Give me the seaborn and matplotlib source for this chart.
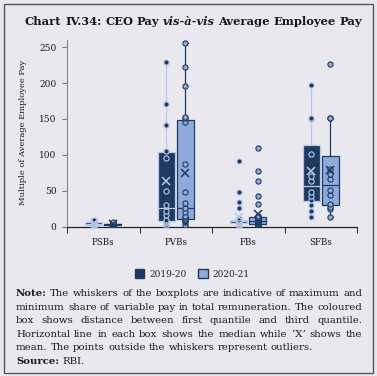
import pandas as pd
import matplotlib
matplotlib.use("Agg")
import matplotlib.pyplot as plt
import seaborn as sns
from matplotlib.patches import Patch, Rectangle

# categories / series
categories = ["PSBs", "PVBs", "FBs", "SFBs"]
years = ["2019-20", "2020-21"]

# multiple of average employee pay
psb_1920 = [1.5, 2, 2.5, 3, 3.5, 4, 4.5, 5, 6, 7, 8, 9]
psb_2021 = [1, 1.5, 2, 2.5, 3, 3, 3.5, 4, 4, 4.5, 5, 6]
pvb_1920 = [3, 5, 7, 8, 10, 16, 22, 30, 50, 96, 106, 141, 171, 230]
pvb_2021 = [3, 6, 8, 9, 10, 11, 13, 15, 21, 26, 33, 49, 88, 146, 151, 153, 196, 222, 256]
fb_1920 = [1, 2, 3, 4, 5, 5, 6, 6, 6, 7, 7, 7, 8, 8, 8, 9, 9, 10, 10, 12, 26, 34, 49, 92]
fb_2021 = [1, 2, 2, 3, 3, 4, 4, 4, 5, 5, 6, 7, 8, 8, 8, 9, 9, 10, 11, 12, 12, 13, 13, 14, 15,
           32, 43, 63, 77, 109]
sfb_1920 = [14, 22, 30, 37, 43, 49, 63, 71, 101, 150, 152, 197]
sfb_2021 = [14, 24, 28, 31, 44, 51, 66, 74, 80, 152, 152, 227]

W, H, DPI = 377, 376, 100
BG = "#E9E8EF"
DARK = "#1F3A60"
LIGHT = "#8EAADB"
PALE = "#B7C9E6"
TXT = "#1A1A1A"

sns.set_theme(style="ticks")
plt.rcParams["font.family"] = ["DejaVu Serif"]

rows = []
for cat, a, b in zip(categories, [psb_1920, pvb_1920, fb_1920, sfb_1920],
                     [psb_2021, pvb_2021, fb_2021, sfb_2021]):
    rows += [(cat, years[0], v) for v in a]
    rows += [(cat, years[1], v) for v in b]
df = pd.DataFrame(rows, columns=["bank", "year", "value"])
# dodge offsets to sit the points on the boxes (width .52 split in two)
df["pos"] = df["bank"].map({c: i for i, c in enumerate(categories)}) + \
    df["year"].map({years[0]: -0.13, years[1]: 0.13})

fig = plt.figure(figsize=(W / DPI, H / DPI), dpi=DPI, facecolor=BG)
ax = fig.add_axes([67 / W, 1 - 226.7 / H, (357 - 67) / W, (226.7 - 40) / H])
ax.set_facecolor(BG)

look = {years[0]: (DARK, PALE), years[1]: (LIGHT, DARK)}
for yr in years:
    fill, edge = look[yr]
    sns.boxplot(data=df[df.year == yr], x="bank", y="value", hue="year",
                order=categories, hue_order=years, dodge=True,
                palette={y: fill for y in years}, saturation=1,
                linecolor=edge, linewidth=0.9, width=0.52, gap=0.1, whis=1.5,
                showfliers=False, showmeans=True, capwidths=0.07,
                meanprops=dict(marker="x", markeredgecolor=edge, markersize=6,
                               markeredgewidth=1.1, zorder=5),
                legend=False, ax=ax)
for yr in years:
    fill, edge = look[yr]
    sns.scatterplot(data=df[df.year == yr], x="pos", y="value", color=fill,
                    edgecolor=edge, linewidth=0.8, s=14, zorder=4, legend=False, ax=ax)

ax.set_xlabel("")
ax.set_ylabel("")
ax.set_xlim(-0.5, 3.5)
ax.set_ylim(0, 260)
ax.set_yticks(range(0, 251, 50))
ax.set_xticks(range(4))
ax.set_xticklabels(categories)
ax.set_xticks([-0.5, 0.5, 1.5, 2.5, 3.5], minor=True)
ax.tick_params(axis="x", which="major", length=0, pad=8, labelsize=6.3, labelcolor=TXT)
ax.tick_params(axis="x", which="minor", length=4, width=0.8, color="#333", direction="out")
ax.tick_params(axis="y", length=3.5, width=0.8, color="#777", labelsize=6.5,
               labelcolor=TXT, pad=4)
sns.despine(ax=ax)
ax.spines["left"].set_color("#888")
ax.spines["left"].set_linewidth(0.8)
ax.spines["bottom"].set_color("#222")
ax.spines["bottom"].set_linewidth(0.9)

fig.text(23 / W, 1 - 132.5 / H, "Multiple of Average Employee Pay", rotation=90,
         ha="center", va="center", fontsize=6, color=TXT)

handles = [Patch(facecolor=DARK, edgecolor=DARK), Patch(facecolor=LIGHT, edgecolor=DARK)]
fig.legend(handles, years, loc="center", bbox_to_anchor=(192 / W, 1 - 274 / H), ncol=2,
           frameon=False, fontsize=6.5, handlelength=1.1, handleheight=1.1,
           handletextpad=0.5, columnspacing=1.3)

fig.patches.append(Rectangle((4 / W, 1 - 373 / H), 369 / W, 369 / H, fill=False,
                             edgecolor="#555", linewidth=1, transform=fig.transFigure))

# word by word text so lines can be justified like the original
rend = fig.canvas.get_renderer()


def words(s, wt="normal", st="normal"):
    return [(w, wt, st) for w in s.split()]


def measure(ws, size):
    arts = [fig.text(0, 0, w, fontsize=size, fontweight=wt, fontstyle=st) for w, wt, st in ws]
    wid = [a.get_window_extent(rend).width for a in arts]
    for a in arts:
        a.remove()
    return wid


def natural(ws, size):
    return sum(measure(ws, size)) + 0.318 * size * DPI / 72 * (len(ws) - 1)


def row(ws, y, size, x0, x1=None, justify=False, center=False):
    wid = measure(ws, size)
    sp = 0.318 * size * DPI / 72
    if justify:
        sp = (x1 - x0 - sum(wid)) / (len(ws) - 1)
    x = x0
    if center:
        x = (x0 + x1) / 2 - (sum(wid) + sp * (len(ws) - 1)) / 2
    for (w, wt, st), wd in zip(ws, wid):
        fig.text(x / W, 1 - y / H, w, fontsize=size, fontweight=wt, fontstyle=st,
                 va="baseline", ha="left", color=TXT)
        x += wd + sp


title = words("Chart IV.34: CEO Pay", "bold") + words("vis-à-vis", "bold", "italic") + \
    words("Average Employee Pay", "bold")
tsize = 8 * 337 / natural(title, 8)
row(title, 25, tsize, 25, 362, center=True)

note = [
    words("Note:", "bold") + words("The whiskers of the boxplots are indicative of maximum and"),
    words("minimum share of variable pay in total remuneration. The coloured"),
    words("box shows distance between first quantile and third quantile."),
    words("Horizontal line in each box shows the median while ‘X’ shows the"),
    words("mean. The points outside the whiskers represent outliers."),
    words("Source:", "bold") + words("RBI."),
]
nsize = 7 * 338 / natural(note[3], 7)
for i, ws in enumerate(note):
    row(ws, 296 + 13.6 * i, nsize, 16, 362, justify=i < 4)

fig.savefig("out.png", dpi=DPI, facecolor=BG)
